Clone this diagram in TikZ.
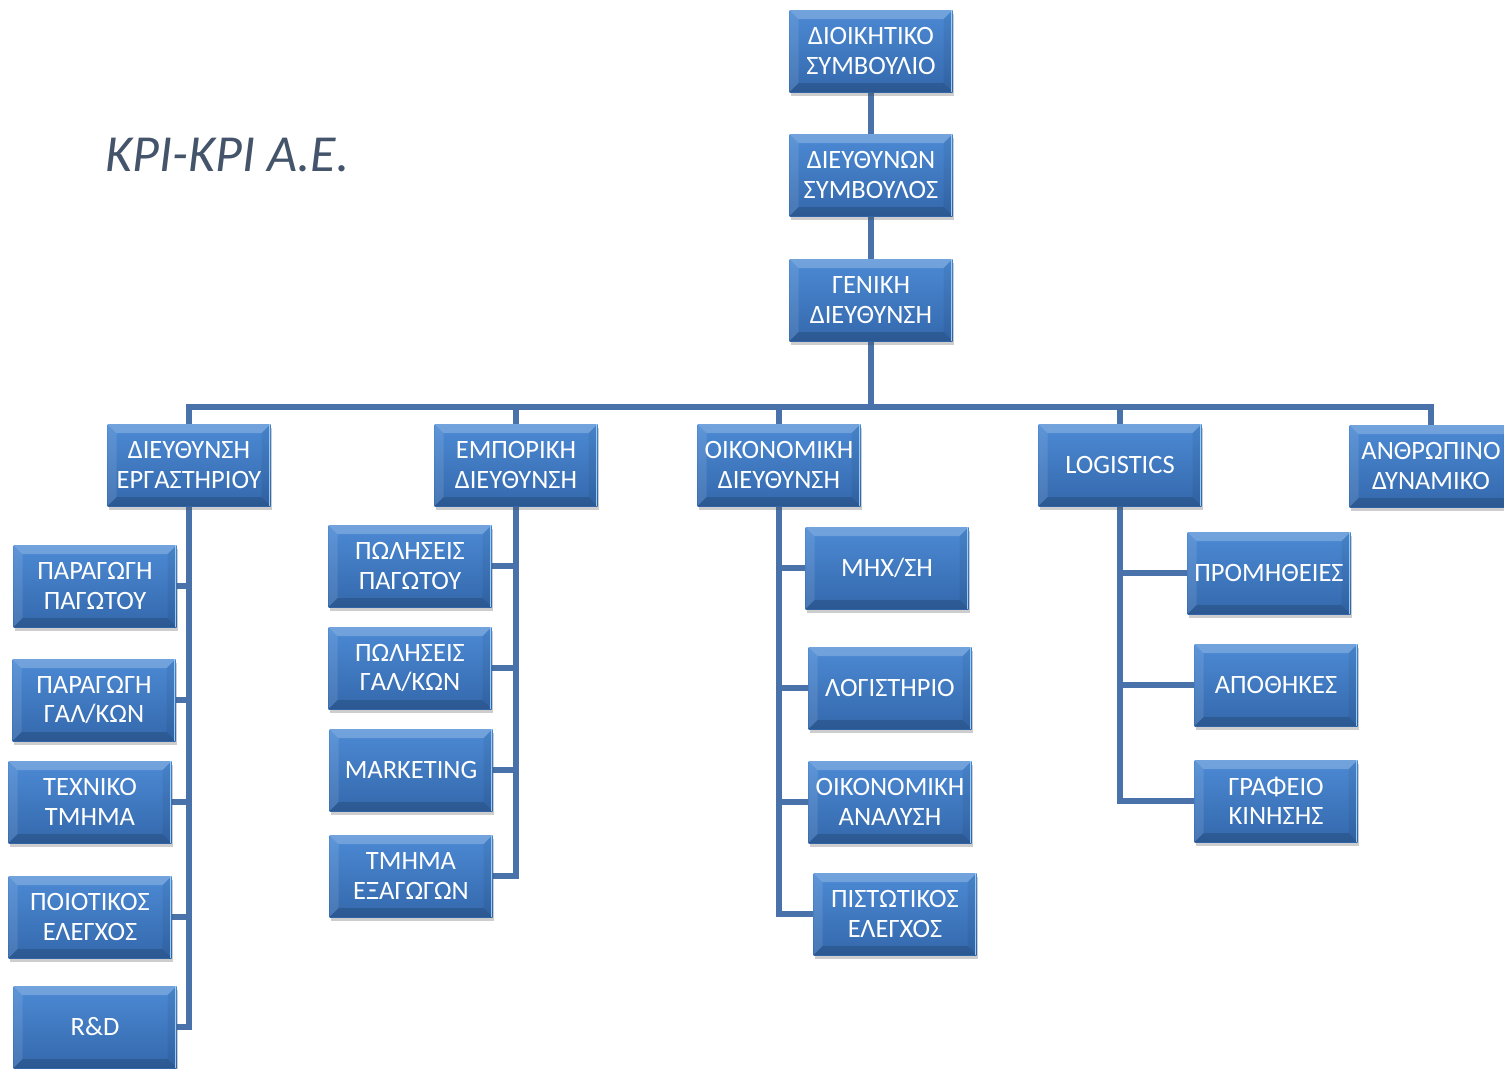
\documentclass[tikz,border=0pt]{standalone}
\usepackage{fontspec}
\setmainfont{Carlito}
\usetikzlibrary{shadows,backgrounds}

\definecolor{linkblue}{RGB}{74,114,170}
\definecolor{facetop}{RGB}{76,138,212}
\definecolor{facebot}{RGB}{52,104,172}
\definecolor{edgehi}{RGB}{150,205,250}
\definecolor{titlegray}{RGB}{68,84,106}

% bevelled face of an organisation box
\newcommand\orgbevel{%
  \path (path picture bounding box.north west) coordinate (bvA)
        (path picture bounding box.north east) coordinate (bvB)
        (path picture bounding box.south east) coordinate (bvC)
        (path picture bounding box.south west) coordinate (bvD);
  \fill[white,opacity=0.22] (bvA) -- (bvB) -- ([shift={(-9pt,-9pt)}]bvB) -- ([shift={(9pt,-9pt)}]bvA) -- cycle;
  \fill[white,opacity=0.10] (bvA) -- ([shift={(9pt,-9pt)}]bvA) -- ([shift={(9pt,9pt)}]bvD) -- (bvD) -- cycle;
  \fill[black,opacity=0.15] (bvD) -- ([shift={(9pt,9pt)}]bvD) -- ([shift={(-9pt,9pt)}]bvC) -- (bvC) -- cycle;
  \fill[black,opacity=0.06] (bvC) -- ([shift={(-9pt,9pt)}]bvC) -- ([shift={(-9pt,-9pt)}]bvB) -- (bvB) -- cycle;
  \draw[edgehi,line width=1.6pt] ([xshift=-1.2pt]bvB) -- ([xshift=-1.2pt]bvC);
}

\tikzset{
  orgbox/.style={rectangle, minimum width=163pt, minimum height=82pt,
    inner sep=0pt, align=center, text=white,
    font=\fontsize{26.5}{29.5}\selectfont,
    top color=facetop, bottom color=facebot,
    drop shadow={shadow xshift=1.5pt, shadow yshift=-3.5pt, opacity=0.28, fill=black!70},
    path picture={\orgbevel}},
  link/.style={draw=linkblue, line width=5.5pt},
  title/.style={text=titlegray, font=\fontsize{52}{62}\selectfont\itshape}
}

\begin{document}
\begin{tikzpicture}[x=1pt,y=-1pt]
\useasboundingbox (0,0) rectangle (1504,1068);
\clip (0,0) rectangle (1504,1068);

\node[title, anchor=base west] (firm) at (102,171) {KPI-KPI A.E.};

% top chain
\node[orgbox] (board) at (871,51)  {ΔΙΟΙΚΗΤΙΚΟ\\ΣΥΜΒΟΥΛΙΟ};
\node[orgbox] (ceo)   at (871,175) {ΔΙΕΥΘΥΝΩΝ\\ΣΥΜΒΟΥΛΟΣ};
\node[orgbox] (gm)    at (871,300) {ΓΕΝΙΚΗ\\ΔΙΕΥΘΥΝΣΗ};

% departments
\node[orgbox] (lab)   at (189,465)  {ΔΙΕΥΘΥΝΣΗ\\ΕΡΓΑΣΤΗΡΙΟΥ};
\node[orgbox] (com)   at (516,465)  {ΕΜΠΟΡΙΚΗ\\ΔΙΕΥΘΥΝΣΗ};
\node[orgbox] (fin)   at (779,465)  {ΟΙΚΟΝΟΜΙΚΗ\\ΔΙΕΥΘΥΝΣΗ};
\node[orgbox] (log)   at (1120,465) {LOGISTICS};
\node[orgbox] (hr)    at (1431,466) {ΑΝΘΡΩΠΙΝΟ\\ΔΥΝΑΜΙΚΟ};

% laboratory units
\node[orgbox] (lab1) at (95,586)   {ΠΑΡΑΓΩΓΗ\\ΠΑΓΩΤΟΥ};
\node[orgbox] (lab2) at (94,700)   {ΠΑΡΑΓΩΓΗ\\ΓΑΛ/ΚΩΝ};
\node[orgbox] (lab3) at (90,802)   {ΤΕΧΝΙΚΟ\\ΤΜΗΜΑ};
\node[orgbox] (lab4) at (90,917)   {ΠΟΙΟΤΙΚΟΣ\\ΕΛΕΓΧΟΣ};
\node[orgbox] (lab5) at (95,1027)  {R\&D};

% commercial units
\node[orgbox] (com1) at (410,566) {ΠΩΛΗΣΕΙΣ\\ΠΑΓΩΤΟΥ};
\node[orgbox] (com2) at (410,668) {ΠΩΛΗΣΕΙΣ\\ΓΑΛ/ΚΩΝ};
\node[orgbox] (com3) at (411,770) {MARKETING};
\node[orgbox] (com4) at (411,876) {ΤΜΗΜΑ\\ΕΞΑΓΩΓΩΝ};

% finance units
\node[orgbox] (fin1) at (887,568) {ΜΗΧ/ΣΗ};
\node[orgbox] (fin2) at (890,688) {ΛΟΓΙΣΤΗΡΙΟ};
\node[orgbox] (fin3) at (890,802) {ΟΙΚΟΝΟΜΙΚΗ\\ΑΝΑΛΥΣΗ};
\node[orgbox] (fin4) at (895,914) {ΠΙΣΤΩΤΙΚΟΣ\\ΕΛΕΓΧΟΣ};

% logistics units
\node[orgbox] (log1) at (1269,573) {ΠΡΟΜΗΘΕΙΕΣ};
\node[orgbox] (log2) at (1276,685) {ΑΠΟΘΗΚΕΣ};
\node[orgbox] (log3) at (1276,801) {ΓΡΑΦΕΙΟ\\ΚΙΝΗΣΗΣ};

\coordinate (bus) at (871,407);

\begin{pgfonlayer}{background}
  \draw[link] (board) -- (ceo) -- (gm);
  \draw[link] (gm.south) -- (bus);
  \foreach \d in {lab,com,fin,log,hr}
    \draw[link] (bus) -| (\d.north);
  \foreach \u in {lab1,lab2,lab3,lab4,lab5}
    \draw[link] (lab.south) |- (\u.east);
  \foreach \u in {com1,com2,com3,com4}
    \draw[link] (com.south) |- (\u.east);
  \foreach \u in {fin1,fin2,fin3,fin4}
    \draw[link] (fin.south) |- (\u.west);
  \foreach \u in {log1,log2,log3}
    \draw[link] (log.south) |- (\u.west);
\end{pgfonlayer}
\end{tikzpicture}
\end{document}
